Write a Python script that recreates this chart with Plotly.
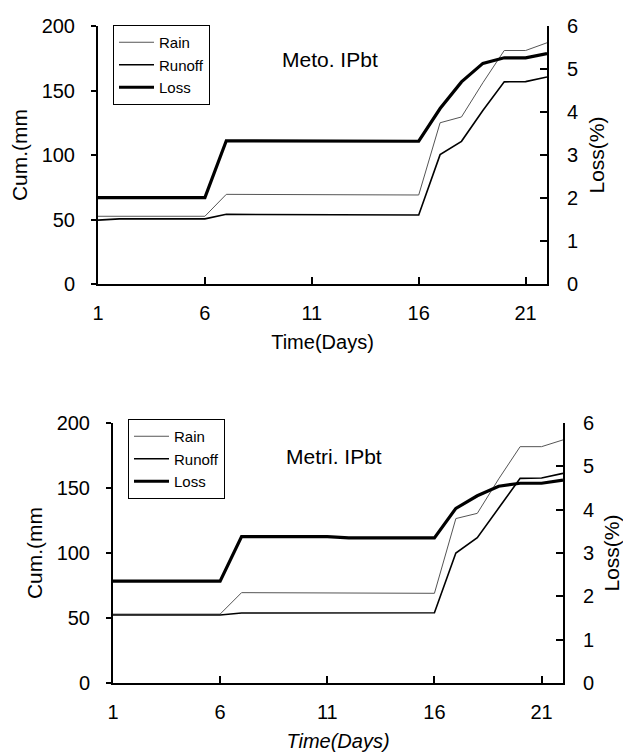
import plotly.graph_objects as go

days = list(range(1, 23))

# Top panel: Meto. IPbt
rain_top = [52.5, 52.5, 52.5, 52.5, 52.5, 52.5, 69.5, 69.5, 69.5, 69.5, 69.5, 69, 69, 69, 69, 69,
            125, 129.5, 156, 181, 181, 187]
runoff_top = [49.5, 50.5, 50.5, 50.5, 50.5, 50.5, 54, 54, 54, 54, 54, 53.5, 53.5, 53.5, 53.5, 53.5,
              100.3, 110.6, 134.5, 156.7, 156.9, 160.5]
loss_top = [2.01, 2.01, 2.01, 2.01, 2.01, 2.01, 3.33, 3.33, 3.33, 3.33, 3.33, 3.32, 3.32, 3.32, 3.32, 3.32,
            4.08, 4.70, 5.13, 5.26, 5.26, 5.36]

# Bottom panel: Metri. IPbt
rain_bot = [53, 53, 53, 53, 53, 53, 69.5, 69.5, 69.5, 69.5, 69.5, 69, 69, 69, 69, 69,
            126.5, 130.5, 157, 181.8, 181.8, 187]
runoff_bot = [52.3, 52.3, 52.3, 52.3, 52.3, 52.3, 53.8, 53.8, 53.8, 53.8, 53.8, 54, 54, 54, 54, 54,
              100, 111.8, 134.6, 157.4, 157.7, 161.3]
loss_bot = [2.35, 2.35, 2.35, 2.35, 2.35, 2.35, 3.38, 3.38, 3.38, 3.38, 3.38, 3.35, 3.35, 3.35, 3.35, 3.35,
            4.03, 4.32, 4.54, 4.61, 4.61, 4.68]

x_ticks = [1, 6, 11, 16, 21]
left_ticks = [0, 50, 100, 150, 200]
right_ticks = [0, 1, 2, 3, 4, 5, 6]

W, H = 623, 752
FONT = "Liberation Sans"

def px_x(a, b):
    return [a / W, b / W]

def px_y(top, bottom):
    return [1 - bottom / H, 1 - top / H]

fig = go.Figure()

def add_panel(xa, ya, ya2, rain, runoff, loss, legend):
    fig.add_trace(go.Scatter(x=days, y=rain, name="Rain", mode="lines",
                             line=dict(color="#555555", width=1),
                             xaxis=xa, yaxis=ya, legend=legend))
    fig.add_trace(go.Scatter(x=days, y=runoff, name="Runoff", mode="lines",
                             line=dict(color="black", width=1.6),
                             xaxis=xa, yaxis=ya, legend=legend))
    fig.add_trace(go.Scatter(x=days, y=loss, name="Loss", mode="lines",
                             line=dict(color="black", width=3.2),
                             xaxis=xa, yaxis=ya2, legend=legend))

add_panel("x", "y", "y2", rain_top, runoff_top, loss_top, "legend")
add_panel("x2", "y3", "y4", rain_bot, runoff_bot, loss_bot, "legend2")

tickfont = dict(family=FONT, size=20, color="black")
titlefont = dict(family=FONT, size=21, color="black")

def xaxis(domain, anchor, standoff, italic=False):
    return dict(domain=domain, anchor=anchor, range=[1, 22], tickvals=x_ticks,
                ticks="inside", ticklen=7, tickwidth=1.5, tickcolor="black",
                showline=True, linecolor="black", linewidth=2, showgrid=False,
                zeroline=False, tickfont=tickfont, ticklabelstandoff=10,
                automargin=False,
                title=dict(text="Time(Days)", font=dict(family=FONT, size=20, color="black",
                                                          style="italic" if italic else "normal"),
                           standoff=standoff))

def yleft(domain, anchor, standoff):
    return dict(domain=domain, anchor=anchor, range=[0, 200], tickvals=left_ticks,
                ticks="outside", ticklen=5, tickwidth=1.5, tickcolor="black",
                showline=True, linecolor="black", linewidth=2, showgrid=False,
                zeroline=False, tickfont=tickfont, ticklabelstandoff=12,
                automargin=False,
                title=dict(text="Cum.(mm", font=titlefont, standoff=standoff))

def yright(overlay, anchor, standoff):
    return dict(overlaying=overlay, anchor=anchor, side="right", range=[0, 6],
                tickvals=right_ticks, ticks="inside", ticklen=7, tickwidth=1.5,
                tickcolor="black", showline=True, linecolor="black", linewidth=2,
                showgrid=False, zeroline=False, tickfont=tickfont, ticklabelstandoff=14,
                automargin=False,
                title=dict(text="Loss(%)", font=titlefont, standoff=standoff))

legend_style = dict(xanchor="left", yanchor="top", bordercolor="black", borderwidth=1,
                    bgcolor="white", font=dict(family=FONT, size=15, color="black"),
                    tracegroupgap=0, itemwidth=35, entrywidth=66, entrywidthmode="pixels")

fig.update_layout(
    width=W, height=H,
    margin=dict(l=0, r=0, t=0, b=0),
    paper_bgcolor="white", plot_bgcolor="white",
    font=dict(family=FONT, color="black"),
    xaxis=xaxis(px_x(98, 547), "y", 12),
    yaxis=yleft(px_y(26, 284), "x", 8),
    yaxis2=yright("y", "x", 12),
    xaxis2=xaxis(px_x(113, 563), "y3", 12, italic=True),
    yaxis3=yleft(px_y(423, 683), "x2", 8),
    yaxis4=yright("y3", "x2", 13),
    legend=dict(x=113 / W, y=1 - 25 / H, **legend_style),
    legend2=dict(x=128 / W, y=1 - 419 / H, **legend_style),
    showlegend=True,
    annotations=[
        dict(text="Meto. IPbt", x=330 / W, y=1 - 60 / H, xref="paper", yref="paper",
             xanchor="center", yanchor="middle",
             showarrow=False, font=dict(family=FONT, size=21, color="black")),
        dict(text="Metri. IPbt", x=334 / W, y=1 - 456 / H, xref="paper", yref="paper",
             xanchor="center", yanchor="middle",
             showarrow=False, font=dict(family=FONT, size=21, color="black")),
    ],
)

fig.write_html("out.html", config={"displayModeBar": False},
               post_script="document.body.style.margin='0';")
